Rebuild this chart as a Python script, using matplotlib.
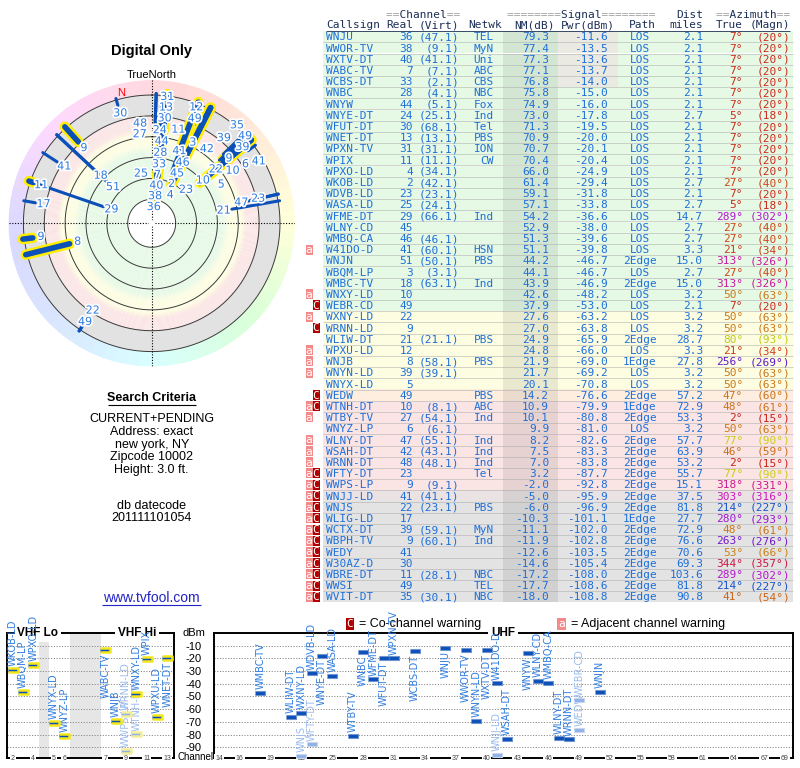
import numpy as np
import matplotlib
matplotlib.use('Agg')
import matplotlib.pyplot as plt
import matplotlib.colors as mcolors
import matplotlib.patheffects as pe

plt.rcParams['font.family'] = ['Liberation Sans', 'DejaVu Sans']
plt.rcParams['axes.unicode_minus'] = False

# ---- station list ----
callsign = ['WNJU', 'WWOR-TV', 'WXTV-DT', 'WABC-TV', 'WCBS-DT', 'WNBC', 'WNYW',
            'WNYE-DT', 'WFUT-DT', 'WNET-DT', 'WPXN-TV', 'WPIX', 'WPXO-LD', 'WKOB-LD',
            'WDVB-LD', 'WASA-LD', 'WFME-DT', 'WLNY-CD', 'WMBQ-CA', 'W41DO-D', 'WNJN',
            'WBQM-LP', 'WMBC-TV', 'WNXY-LD', 'WEBR-CD', 'WXNY-LD', 'WRNN-LD', 'WLIW-DT',
            'WPXU-LD', 'WNJB', 'WNYN-LD', 'WNYX-LD', 'WEDW', 'WTNH-DT', 'WTBY-TV',
            'WNYZ-LP', 'WLNY-DT', 'WSAH-DT', 'WRNN-DT', 'WFTY-DT', 'WWPS-LP', 'WNJJ-LD',
            'WNJS', 'WLIG-LD', 'WCTX-DT', 'WBPH-TV', 'WEDY', 'W30AZ-D', 'WBRE-DT',
            'WWSI', 'WVIT-DT']
real_ch = [36, 38, 40, 7, 33, 28, 44, 24, 30, 13, 31, 11, 4, 2, 23, 25, 29, 45, 46, 41,
           51, 3, 18, 10, 49, 22, 9, 21, 12, 8, 39, 5, 49, 10, 27, 6, 47, 42, 48, 23,
           9, 41, 22, 17, 39, 9, 41, 30, 11, 49, 35]
virt_ch = ['47.1', '9.1', '41.1', '7.1', '2.1', '4.1', '5.1', '25.1', '68.1', '13.1',
           '31.1', '11.1', '34.1', '42.1', '23.1', '24.1', '66.1', '', '46.1', '60.1',
           '50.1', '3.1', '63.1', '', '', '', '', '21.1', '', '58.1', '39.1', '', '',
           '8.1', '54.1', '6.1', '55.1', '43.1', '48.1', '', '9.1', '41.1', '23.1', '',
           '59.1', '60.1', '', '', '28.1', '', '30.1']
network = ['TEL', 'MyN', 'Uni', 'ABC', 'CBS', 'NBC', 'Fox', 'Ind', 'Tel', 'PBS', 'ION',
           'CW', '', '', '', '', 'Ind', '', '', 'HSN', 'PBS', '', 'Ind', '', '', '', '',
           'PBS', '', 'PBS', '', '', 'PBS', 'ABC', 'Ind', '', 'Ind', 'Ind', 'Ind', 'Tel',
           '', '', 'PBS', '', 'MyN', 'Ind', '', '', 'NBC', 'TEL', 'NBC']
nm_db = [79.3, 77.4, 77.3, 77.1, 76.8, 75.8, 74.9, 73.0, 71.3, 70.9, 70.7, 70.4, 66.0,
         61.4, 59.1, 57.1, 54.2, 52.9, 51.3, 51.1, 44.2, 44.1, 43.9, 42.6, 37.9, 27.6,
         27.0, 24.9, 24.8, 21.9, 21.7, 20.1, 14.2, 10.9, 10.1, 9.9, 8.2, 7.5, 7.0, 3.2,
         -2.0, -5.0, -6.0, -10.3, -11.1, -11.9, -12.6, -14.6, -17.2, -17.7, -18.0]
pwr_dbm = [-11.6, -13.5, -13.6, -13.7, -14.0, -15.0, -16.0, -17.8, -19.5, -20.0, -20.1,
           -20.4, -24.9, -29.4, -31.8, -33.8, -36.6, -38.0, -39.6, -39.8, -46.7, -46.7,
           -46.9, -48.2, -53.0, -63.2, -63.8, -65.9, -66.0, -69.0, -69.2, -70.8, -76.6,
           -79.9, -80.8, -81.0, -82.6, -83.3, -83.8, -87.7, -92.8, -95.9, -96.9, -101.1,
           -102.0, -102.8, -103.5, -105.4, -108.0, -108.6, -108.8]
path = ['LOS'] * 20 + ['2Edge', 'LOS', '2Edge', 'LOS', 'LOS', 'LOS', 'LOS', '2Edge',
                       'LOS', '1Edge', 'LOS', 'LOS', '2Edge', '1Edge', '2Edge', 'LOS',
                       '2Edge', '2Edge', '2Edge', '2Edge', '2Edge', '2Edge', '2Edge',
                       '1Edge', '2Edge', '2Edge', '2Edge', '2Edge', '2Edge', '2Edge',
                       '2Edge']
dist_mi = [2.1, 2.1, 2.1, 2.1, 2.1, 2.1, 2.1, 2.7, 2.1, 2.1, 2.1, 2.1, 2.1, 2.7, 2.1,
           2.7, 14.7, 2.7, 2.7, 3.3, 15.0, 2.7, 15.0, 3.2, 2.1, 3.2, 3.2, 28.7, 3.3,
           27.8, 3.2, 3.2, 57.2, 72.9, 53.3, 3.2, 57.7, 63.9, 53.2, 55.7, 15.1, 37.5,
           81.8, 27.7, 72.9, 76.6, 70.6, 69.3, 103.6, 81.8, 90.8]
az_true = [7, 7, 7, 7, 7, 7, 7, 5, 7, 7, 7, 7, 7, 27, 7, 5, 289, 27, 27, 21, 313, 27,
           313, 50, 7, 50, 50, 80, 21, 256, 50, 50, 47, 48, 2, 50, 77, 46, 2, 77, 318,
           303, 214, 280, 48, 263, 53, 344, 289, 214, 41]
az_magn = [20, 20, 20, 20, 20, 20, 20, 18, 20, 20, 20, 20, 20, 40, 20, 18, 302, 40, 40,
           34, 326, 40, 326, 63, 20, 63, 63, 93, 34, 269, 63, 63, 60, 61, 15, 63, 90, 59,
           15, 90, 331, 316, 227, 293, 61, 276, 66, 357, 302, 227, 54]
warnings = [''] * 19 + ['a', '', '', '', 'a', 'c', 'a', 'c', '', 'a', 'a', 'a', '', 'c',
                        'ac', 'a', '', 'a', 'a', 'a'] + ['ac'] * 12

vhf_ticks = [2, 4, 5, 6, 7, 9, 11, 13]
uhf_ticks = [14, 16] + list(range(19, 68, 3)) + [69]
dbm_ticks = [-10, -20, -30, -40, -50, -60, -70, -80, -90]

BLUE = '#1e6fd9'
LABEL_BLUE = '#2f7de0'
BAR_BLUE = '#0b50b8'


def nm_color(nm):
    anchors = [-6, -4.5, -2.5, 11.5, 14.2, 17, 28, 35]
    cols = np.array([mcolors.to_rgb(c) for c in
                     ['#e3e3e3', '#efe3e3', '#fbe4e4', '#fbe4e4', '#fdeedf',
                      '#fdfde1', '#fdfde1', '#e5f9e5']])
    return tuple(np.interp(nm, anchors, cols[:, k]) for k in range(3))


def az_color(az):
    h = np.interp(az, [0, 27, 50, 80, 214, 256, 289, 313, 344, 360],
                  [2, 15, 32, 64, 220, 265, 292, 315, 345, 360]) / 360.0
    return mcolors.hsv_to_rgb((h % 1.0, 0.88, 0.8))


def ring_color(az):
    h = np.interp(az, [0, 45, 90, 135, 180, 225, 270, 315, 360],
                  [350, 385, 422, 480, 540, 580, 605, 660, 710]) % 360 / 360.0
    return mcolors.hsv_to_rgb((h, 0.15, 1.0))


fig = plt.figure(figsize=(8, 7.68), dpi=100)

# overlay in pixel units for the table and the text blocks
ax0 = fig.add_axes([0, 0, 1, 1])
ax0.set_xlim(0, 800)
ax0.set_ylim(768, 0)
ax0.axis('off')

n = len(callsign)
row_h = 11.2
row_y = 36.7 + row_h * np.arange(n)
mono = dict(family='DejaVu Sans Mono', fontsize=8)

ax0.barh(row_y, 470, left=323, height=row_h, color=[nm_color(v) for v in nm_db], lw=0)
ax0.barh(row_y, 55, left=503, height=row_h, color='k', alpha=0.08, lw=0)
hot = np.array(pwr_dbm) > -15
ax0.barh(row_y[hot], 60, left=558, height=row_h, color='#eaeae3', lw=0)
ax0.hlines(row_y[:-1] + row_h / 2, 323, 793, color='#a8a8a8', lw=0.5, alpha=0.7)

has_a = np.array(['a' in w for w in warnings])
has_c = np.array(['c' in w for w in warnings])
ax0.barh(row_y[has_a], 7, left=305.5, height=10, color='#f28a8a', lw=0)
ax0.barh(row_y[has_c], 7, left=312.5, height=10, color='#b00000', lw=0)
for y in row_y[has_a]:
    ax0.text(309, y + 3.5, 'a', color='white', ha='center', **mono)
for y in row_y[has_c]:
    ax0.text(316, y + 3.5, 'C', color='white', ha='center', **mono)

# header
HEAD = '#1c2f57'
for txt, x, ha in [('Callsign', 326, 'left'), ('Real', 413, 'right'),
                   ('(Virt)', 459, 'right'), ('Netwk', 502, 'right'),
                   ('NM(dB)', 555, 'right'), ('Pwr(dBm)', 615, 'right'),
                   ('Path', 642, 'center'), ('miles', 703, 'right'),
                   ('True', 743, 'right'), ('(Magn)', 790, 'right')]:
    ax0.text(x, 28.5, txt, color=HEAD, ha=ha, **mono)
for word, pad, x in [('Channel', 2, 423.5), ('Signal', 8, 581.5), ('Azimuth', 2, 753.5)]:
    ax0.text(x, 17.5, '=' * pad + ' ' * len(word) + '=' * pad, color='#a0a0a0',
             ha='center', **mono)
    ax0.text(x, 17.5, ' ' * pad + word + ' ' * pad, color=HEAD, ha='center', **mono)
ax0.text(703, 17.5, 'Dist', color=HEAD, ha='right', **mono)
ax0.hlines(30.8, 326, 790, color=HEAD, lw=0.6)

for i in range(n):
    yb = row_y[i] + 3.8
    ax0.text(326, yb, callsign[i], color=BLUE, ha='left', **mono)
    ax0.text(413, yb, str(real_ch[i]), color=BLUE, ha='right', **mono)
    if virt_ch[i]:
        ax0.text(459, yb, '(' + virt_ch[i] + ')', color=BLUE, ha='right', **mono)
    ax0.text(494, yb, network[i], color=BLUE, ha='right', **mono)
    ax0.text(549, yb, f'{nm_db[i]:.1f}', color=BLUE, ha='right', **mono)
    ax0.text(608, yb, f'{pwr_dbm[i]:.1f}', color=BLUE, ha='right', **mono)
    ax0.text(640, yb, path[i], color=BLUE, ha='center', **mono)
    ax0.text(703, yb, f'{dist_mi[i]:.1f}', color=BLUE, ha='right', **mono)
    c = az_color(az_true[i])
    ax0.text(743, yb, f'{az_true[i]}°', color=c, ha='right', **mono)
    ax0.text(790, yb, f'({az_magn[i]}°)', color=c, ha='right', **mono)

# left column text
ax0.text(151.7, 51, 'Digital Only', ha='center', va='center', fontsize=10.5,
         fontweight='bold')
ax0.text(151.7, 74.5, 'TrueNorth', ha='center', va='center', fontsize=8)
ax0.text(151.7, 398, 'Search Criteria', ha='center', va='center', fontsize=9,
         fontweight='bold')
ax0.hlines(404.5, 108, 195.5, color='black', lw=0.8)
for k, line in enumerate(['CURRENT+PENDING', 'Address: exact', 'new york, NY',
                          'Zipcode 10002', 'Height: 3.0 ft.']):
    ax0.text(151.7, 419.5 + 12.6 * k, line, ha='center', va='center', fontsize=9)
ax0.text(151.7, 505.7, 'db datecode', ha='center', va='center', fontsize=9)
ax0.text(151.7, 518.3, '201111101054', ha='center', va='center', fontsize=9)
ax0.text(151.7, 597.5, 'www.tvfool.com', ha='center', va='center', fontsize=10,
         color='#2323c8')
ax0.hlines(604.5, 102, 201, color='#2323c8', lw=0.8)

# legend and spectrum side labels
ax0.text(350, 624, 'C', color='white', ha='center', va='center', fontsize=8,
         family='DejaVu Sans Mono',
         bbox=dict(boxstyle='square,pad=0.1', fc='#b00000', ec='none'))
ax0.text(359, 624, '= Co-channel warning', ha='left', va='center', fontsize=9)
ax0.text(561.5, 624, 'a', color='white', ha='center', va='center', fontsize=8,
         family='DejaVu Sans Mono',
         bbox=dict(boxstyle='square,pad=0.1', fc='#f28a8a', ec='none'))
ax0.text(571, 624, '= Adjacent channel warning', ha='left', va='center', fontsize=9)
ax0.text(194, 633, 'dBm', ha='center', va='center', fontsize=8)
ax0.text(177, 757, 'Channel', ha='left', va='center', fontsize=7)

# ---- polar signal plot (radius = 100 - NM) ----
axp = fig.add_axes([8.4 / 800, (768 - 223.3 - 143.3) / 768, 286.6 / 800, 286.6 / 768],
                   projection='polar')
axp.set_theta_zero_location('N')
axp.set_theta_direction(-1)
axp.set_rorigin(-3)
R_MAX = 134.4
axp.set_ylim(0, R_MAX)
axp.axis('off')

for lo in np.arange(20, 120, 1.0):
    axp.bar(0, 1.0, width=2 * np.pi, bottom=lo, color=nm_color(100 - lo - 0.5),
            lw=0, zorder=0)
axp.bar(0, 20, width=2 * np.pi, bottom=100, color='#e2e2e2', lw=0, zorder=0)
seg = np.arange(0, 360, 5.0)
axp.bar(np.radians(seg + 2.5), R_MAX - 120, width=np.radians(5.2), bottom=120,
        color=[ring_color(a + 2.5) for a in seg], lw=0, zorder=0)

full = np.linspace(0, 2 * np.pi, 361)
for lo in [20, 40, 60, 80, 100, 120]:
    axp.plot(full, np.full_like(full, lo), color='#3a3a3a', lw=0.7, zorder=1)
for a in [0, 90, 180, 270]:
    axp.plot([np.radians(a)] * 2, [0, R_MAX], color='black', lw=0.8,
             linestyle=(0, (1, 1.5)), zorder=1.5)
axp.text(np.radians(347), 125.5, 'N', color='red', ha='center', va='center', fontsize=8)

loss = 100 - np.array(nm_db)
order = np.argsort(nm_db)
for i in order:
    th = np.radians(az_true[i])
    if real_ch[i] <= 13:
        axp.plot([th, th], [loss[i], 121.5], color='#ffee00', lw=7.5,
                 solid_capstyle='round', zorder=2)
        axp.plot([th, th], [loss[i], 121.5], color=BAR_BLUE, lw=4,
                 solid_capstyle='round', zorder=3)
    else:
        axp.plot([th, th], [loss[i], 121.5], color=BAR_BLUE, lw=2.2,
                 solid_capstyle='round', zorder=3)

# channel labels: just inside each line's inner end, nudged outward or sideways
# until they no longer sit on a label already placed
px_per = 143.3 / (R_MAX + 3)
placed = []
for i in order[::-1]:
    th = np.radians(az_true[i])
    ux, uy = np.sin(th), np.cos(th)
    tx, ty = uy, -ux
    half_w = 3.6 * len(str(real_ch[i])) + 1
    r0 = (max(loss[i] - 8, 12) + 3) * px_per
    steps = np.arange(r0, 132, 1.5)
    cands = [(rp, 0) for rp in steps]
    for t in (15, -15, 30, -30):
        cands += [(rp, t) for rp in steps]
    cands.append((min(r0, 130), 0))
    for rp, t in cands:
        x, y = rp * ux + t * tx, rp * uy + t * ty
        if all(abs(x - qx) >= half_w + qw or abs(y - qy) >= 10.5
               for qx, qy, qw in placed):
            break
    placed.append((x, y, half_w))
    axp.text(np.arctan2(x, y), np.hypot(x, y) / px_per - 3, str(real_ch[i]),
             color=LABEL_BLUE, fontsize=8, family='DejaVu Sans',
             ha='center', va='center', zorder=4,
             path_effects=[pe.withStroke(linewidth=2.5, foreground='white')])


# ---- spectrum panels ----
def vhf_slot(ch):
    return ch - 2 if ch <= 4 else (ch - 1 if ch <= 6 else ch + 2)


ax_v = fig.add_axes([6.7 / 800, 9.7 / 768, 167.3 / 800, 125.6 / 768])
ax_u = fig.add_axes([214 / 800, 9.7 / 768, 578.7 / 800, 125.6 / 768])
ax_v.set_xlim(-0.58, 15.66)
ax_u.set_xlim(13.51, 69.75)
Y_LO = -98.7
for axs in (ax_v, ax_u):
    axs.set_ylim(Y_LO, 0.2)
    axs.set_yticks(dbm_ticks)
    axs.grid(axis='y', linestyle=(0, (1.2, 1.6)), color='#8a8a8a', lw=0.7)
    axs.set_xticks([])
    axs.tick_params(axis='y', length=0)
    for sp in axs.spines.values():
        sp.set_linewidth(1.4)
ax_v.set_yticklabels([])
ax_u.set_yticklabels([str(t) for t in dbm_ticks])
ax_u.tick_params(axis='y', labelsize=8, pad=9)

ax_v.axvspan(2.55, 3.55, color='#e6e6e6', lw=0, zorder=0)
ax_v.axvspan(5.55, 8.55, color='#e6e6e6', lw=0, zorder=0)

tick_box = dict(boxstyle='square,pad=0.15', fc='white', ec='none')
for ch in vhf_ticks:
    ax_v.text(vhf_slot(ch), 0, str(ch), transform=ax_v.get_xaxis_transform(),
              ha='center', va='center', fontsize=5, color='#444444', bbox=tick_box,
              clip_on=False)
for ch in uhf_ticks:
    ax_u.text(ch, 0, str(ch), transform=ax_u.get_xaxis_transform(), ha='center',
              va='center', fontsize=5, color='#444444', bbox=tick_box, clip_on=False)

title_box = dict(boxstyle='square,pad=0.25', fc='white', ec='none')
ax_v.text(0.187, 1.0, 'VHF Lo', transform=ax_v.transAxes, ha='center', va='center',
          fontsize=8.5, fontweight='bold', bbox=title_box)
ax_v.text(0.779, 1.0, 'VHF Hi', transform=ax_v.transAxes, ha='center', va='center',
          fontsize=8.5, fontweight='bold', bbox=title_box)
ax_u.text(0.5, 1.0, 'UHF', transform=ax_u.transAxes, ha='center', va='center',
          fontsize=8.5, fontweight='bold', bbox=title_box)

bar_marker = [(-1, -0.42), (1, -0.42), (1, 0.42), (-1, 0.42)]
for i in range(n):
    if pwr_dbm[i] < Y_LO:
        continue
    ch = real_ch[i]
    vhf = ch <= 13
    axs = ax_v if vhf else ax_u
    x = vhf_slot(ch) if vhf else ch
    faded = 'c' in warnings[i]
    face = '#8fb2e8' if faded else BAR_BLUE
    if vhf:
        edge = '#f2ee9a' if faded else '#f5e617'
        lw = 1.8
    else:
        edge = '#c9d5ea' if faded else '#6f93cf'
        lw = 0.8
    axs.scatter([x], [pwr_dbm[i]], marker=bar_marker, s=50, c=[face], edgecolors=edge,
                linewidths=lw, zorder=5, clip_on=False)
    above = pwr_dbm[i] < -20.0
    axs.text(x, pwr_dbm[i] + (3 if above else -3), callsign[i], rotation=90,
             ha='center', va='bottom' if above else 'top', fontsize=7,
             family='DejaVu Sans', color='#9bbcee' if faded else LABEL_BLUE,
             zorder=4, clip_on=False)

fig.savefig('out.png', dpi=100)
